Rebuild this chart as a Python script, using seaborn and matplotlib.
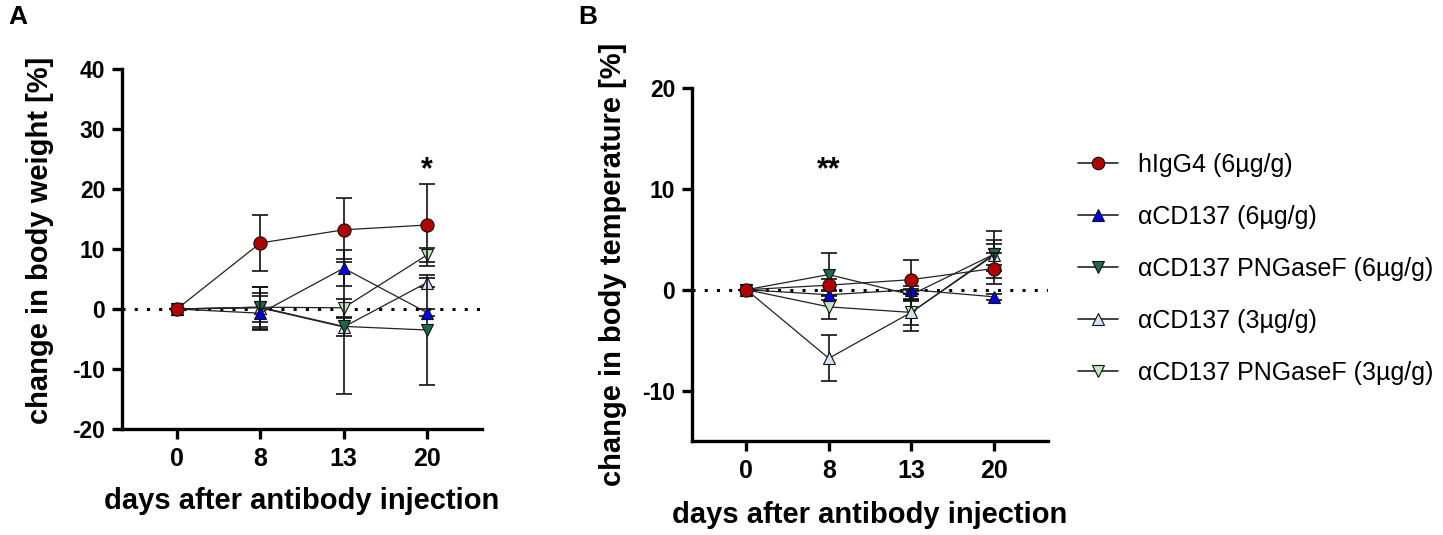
import numpy as np
import pandas as pd
import matplotlib
matplotlib.use("Agg")
import matplotlib.pyplot as plt
import seaborn as sns
from matplotlib.lines import Line2D

sns.set_style("ticks")
plt.rcParams['font.family'] = ['Liberation Sans', 'DejaVu Sans']
plt.rcParams['axes.unicode_minus'] = False
for k in ['text.color', 'axes.labelcolor', 'xtick.color', 'ytick.color', 'axes.edgecolor']:
    plt.rcParams[k] = 'black'

days = ["0", "8", "13", "20"]
groups = ["hIgG4 (6µg/g)", "\u03b1CD137 (6µg/g)", "\u03b1CD137 PNGaseF (6µg/g)",
          "\u03b1CD137 (3µg/g)", "\u03b1CD137 PNGaseF (3µg/g)"]
colors = ["#B00000", "#0000E6", "#1B6B4B", "#D4E2F2", "#C4E6C0"]
markers = ["o", "^", "v", "^", "v"]

# Panel A: change in body weight [%]
weight_hIgG4 = [0, 11.0, 13.2, 14.0]
weight_hIgG4_err = [0, 4.6, 5.3, 6.8]
weight_CD137_6 = [0, -0.7, 6.8, -0.6]
weight_CD137_6_err = [0, 2.8, 3.0, 0.6]
weight_PNG_6 = [0, 0.3, -2.9, -3.5]
weight_PNG_6_err = [0, 3.3, 11.3, 9.2]
weight_CD137_3 = [0, 0.2, -3.0, 4.4]
weight_CD137_3_err = [0, 3.5, 1.5, 0.8]
weight_PNG_3 = [0, 0.3, 0.2, 9.0]
weight_PNG_3_err = [0, 2.4, 1.5, 1.2]

# Panel B: change in body temperature [%]
temp_hIgG4 = [0, 0.45, 1.0, 2.1]
temp_hIgG4_err = [0, 0.6, 1.9, 1.5]
temp_CD137_6 = [0, -0.5, 0.0, -0.7]
temp_CD137_6_err = [0, 0.5, 0.4, 0.3]
temp_PNG_6 = [0, 1.5, -0.5, 3.5]
temp_PNG_6_err = [0, 2.1, 0.6, 2.3]
temp_CD137_3 = [0, -6.8, -2.25, 3.4]
temp_CD137_3_err = [0, 2.3, 1.8, 1.5]
temp_PNG_3 = [0, -1.7, -2.25, 3.5]
temp_PNG_3_err = [0, 1.2, 1.2, 1.0]

weight_means = [weight_hIgG4, weight_CD137_6, weight_PNG_6, weight_CD137_3, weight_PNG_3]
weight_errs = [weight_hIgG4_err, weight_CD137_6_err, weight_PNG_6_err, weight_CD137_3_err, weight_PNG_3_err]
temp_means = [temp_hIgG4, temp_CD137_6, temp_PNG_6, temp_CD137_3, temp_PNG_3]
temp_errs = [temp_hIgG4_err, temp_CD137_6_err, temp_PNG_6_err, temp_CD137_3_err, temp_PNG_3_err]

fig = plt.figure(figsize=(14.43, 5.35), dpi=100)
axA = fig.add_axes([122/1443, (535-429)/535, 360/1443, 360/535])
axB = fig.add_axes([692/1443, (535-441)/535, 356/1443, 353/535])

pos = np.arange(len(days))


def draw(ax, means, errs):
    ax.axhline(0, color="black", linestyle=(0, (1, 3)), linewidth=2.2, zorder=1)
    n = len(groups)
    for i in reversed(range(n)):
        df = pd.DataFrame({"x": pos, "y": means[i]})
        z = 3 + (n - i) * 2
        ax.errorbar(pos, means[i], yerr=errs[i], fmt="none", ecolor="#111111",
                    elinewidth=1.2, capsize=6, capthick=1.2, zorder=z)
        sns.lineplot(data=df, x="x", y="y", ax=ax, color="#222222", linewidth=0.9,
                     marker=markers[i], markersize=9.5 if markers[i] == "o" else 8.5,
                     markerfacecolor=colors[i], markeredgecolor="#111111",
                     markeredgewidth=0.8, zorder=z + 1, legend=False)
    ax.set_xticks(pos)
    ax.set_xticklabels(days)
    ax.set_xlim(-0.66, 3.66)
    for s in ["top", "right"]:
        ax.spines[s].set_visible(False)
    for s in ["left", "bottom"]:
        ax.spines[s].set_linewidth(2.4)
    ax.tick_params(width=2.4, length=7, pad=5)
    ax.tick_params(axis="x", labelsize=18, pad=6)
    ax.tick_params(axis="y", labelsize=16.5)
    ax.set_xlabel("days after antibody injection", fontsize=21, fontweight="bold")


draw(axA, weight_means, weight_errs)
axA.set_ylim(-20, 40)
axA.set_yticks([-20, -10, 0, 10, 20, 30, 40])
axA.set_ylabel("change in body weight [%]", fontsize=21, fontweight="bold")
axA.yaxis.set_label_coords(-0.19, 0.525)
axA.xaxis.set_label_coords(0.5, -0.162)
axA.text(3, 23.2, "*", ha="center", va="center", fontsize=22, fontweight="bold")

draw(axB, temp_means, temp_errs)
axB.set_ylim(-15, 20)
axB.set_yticks([-10, 0, 10, 20])
axB.set_ylabel("change in body temperature [%]", fontsize=21, fontweight="bold")
axB.yaxis.set_label_coords(-0.183, 0.5)
axB.xaxis.set_label_coords(0.5, -0.17)
axB.text(1, 11.8, "**", ha="center", va="center", fontsize=22, fontweight="bold")
for lab in axA.get_xticklabels() + axA.get_yticklabels() + axB.get_xticklabels() + axB.get_yticklabels():
    lab.set_fontweight("bold")

handles = [Line2D([0], [0], color="#222222", linewidth=1.2, marker=markers[i],
                  markersize=9 if markers[i] == "o" else 8, markerfacecolor=colors[i],
                  markeredgecolor="#111111", markeredgewidth=0.8) for i in range(len(groups))]
fig.legend(handles, groups, loc="upper left", bbox_to_anchor=(1078/1443, 1 - 153/535),
           frameon=False, fontsize=18, labelspacing=1.12, handlelength=1.6,
           handletextpad=0.8, borderpad=0, borderaxespad=0)

fig.text(8/1443, 1 - 5/535, "A", fontsize=19, fontweight="bold", va="top", ha="left")
fig.text(578/1443, 1 - 5/535, "B", fontsize=19, fontweight="bold", va="top", ha="left")

fig.savefig("out.png", dpi=100)
